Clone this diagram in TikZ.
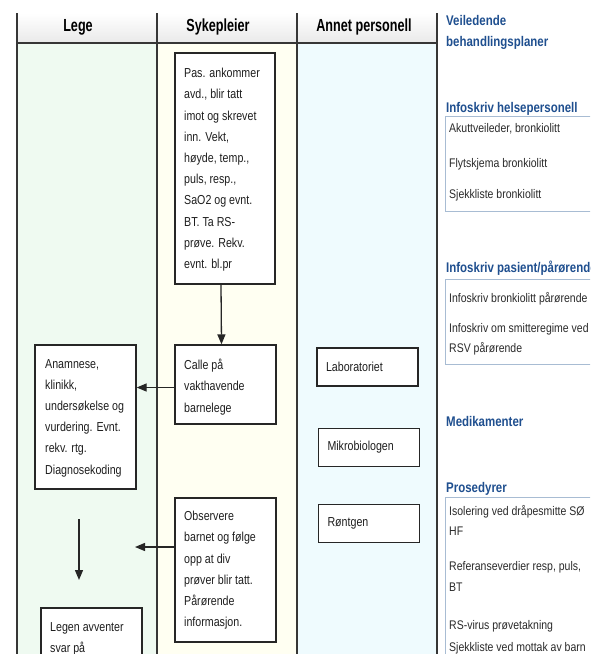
\documentclass[tikz,border=0pt]{standalone}
\usepackage{fontspec}
\setmainfont{Liberation Sans}[FakeStretch=0.82]
\newfontfamily\headfont{Liberation Sans}[FakeStretch=0.72]
\newfontfamily\itemfont{Liberation Sans}[FakeStretch=0.84]
\usetikzlibrary{arrows.meta}

\definecolor{lanegreen}{HTML}{EFFAF1}
\definecolor{laneyellow}{HTML}{FFFFF2}
\definecolor{lanecyan}{HTML}{EFFBFE}
\definecolor{headgray}{HTML}{E9E9E9}
\definecolor{laneline}{HTML}{363636}
\definecolor{boxrule}{HTML}{262626}
\definecolor{bodytext}{HTML}{1E1E1E}
\definecolor{linkblue}{HTML}{1F4F8F}
\definecolor{panelrule}{HTML}{A8BCD3}
\definecolor{itemtext}{HTML}{2A2A2A}

\begin{document}
\begin{tikzpicture}[x=1pt,y=-1pt,
  box/.style={draw=boxrule, line width=1.3pt, fill=white, inner sep=0pt},
  boxtext/.style={anchor=north west, inner sep=0pt, align=left,
    font=\fontsize{13}{21.2}\selectfont, text=bodytext},
  unitbox/.style={box, minimum height=38pt, inner xsep=9pt, text width=83pt,
    align=left, font=\fontsize{13}{16}\selectfont, text=bodytext},
  flow/.style={draw=boxrule, line width=1.3pt, -{Triangle[length=10pt,width=8pt]}},
  lanehead/.style={font=\headfont\bfseries\fontsize{17.5}{20}\selectfont, text=black},
  linkhead/.style={anchor=base west, inner sep=0pt,
    font=\bfseries\fontsize{14}{17}\selectfont, text=linkblue},
  item/.style={anchor=base west, inner sep=0pt, align=left,
    font=\itemfont\fontsize{12.5}{20}\selectfont, text=itemtext},
  panelbox/.style={draw=panelrule, line width=0.8pt}
]
\fill[white] (0,0) rectangle (590,654);
\useasboundingbox (0,0) rectangle (590,654);

\begin{scope}
\clip (0,13) rectangle (590,654);

% swimlane backgrounds
\shade[top color=white, bottom color=headgray] (17,13) rectangle (437,43);
\fill[lanegreen]  (17,43)  rectangle (157,660);
\fill[laneyellow] (157,43) rectangle (297,660);
\fill[lanecyan]   (297,43) rectangle (437,660);

% swimlane rules
\draw[laneline, line width=1.3pt] (17,13) -- (17,660);
\draw[laneline, line width=1.3pt] (157,13) -- (157,660);
\draw[laneline, line width=1.3pt] (297,13) -- (297,660);
\draw[laneline, line width=1.3pt] (437,13) -- (437,660);
\draw[laneline, line width=1.6pt] (17,43) -- (437,43);

% lane titles
\node[lanehead] (hlege) at (78,27) {Lege};
\node[lanehead] (hsyk)  at (218,27) {Sykepleier};
\node[lanehead] (hannet) at (364,27) {Annet personell};

% Sykepleier lane
\node[box, minimum width=100pt, minimum height=231pt] (b1) at (225,168.5) {};
\node[boxtext] (t1) at (184,68) {Pas. ankommer\\avd., blir tatt\\imot og skrevet\\inn. Vekt,\\høyde, temp.,\\puls, resp.,\\SaO2 og evnt.\\BT. Ta RS-\\prøve. Rekv.\\evnt. bl.pr};

\node[box, minimum width=101pt, minimum height=79pt] (b2) at (225.5,384.5) {};
\node[boxtext] (t2) at (184,359) {Calle på\\vakthavende\\barnelege};

\node[box, minimum width=101pt, minimum height=144pt] (b4) at (225.5,570) {};
\node[boxtext] (t4) at (184,511) {Observere\\barnet og følge\\opp at div\\prøver blir tatt.\\Pårørende\\informasjon.};

% Lege lane
\node[box, minimum width=101pt, minimum height=144pt] (b3) at (85.5,417) {};
\node[boxtext] (t3) at (45,359) {Anamnese,\\klinikk,\\undersøkelse og\\vurdering. Evnt.\\rekv. rtg.\\Diagnosekoding};

\node[box, minimum width=101pt, minimum height=92pt] (b5) at (91.5,654) {};
\node[boxtext] (t5) at (50,622) {Legen avventer\\svar på};

% Annet personell lane
\node[unitbox] (lab)  at (367.5,367)   {Laboratoriet};
\node[unitbox] (mikro) at (369,447.5) {Mikrobiologen};
\node[unitbox] (rtg)  at (369,523.5)  {Røntgen};

% connectors
\coordinate (obsend) at (135,547);
\coordinate (legetop) at (79,519);
\coordinate (legebot) at (79,580);
\draw[flow] ([xshift=-4pt]b1.south) -- ([xshift=-4pt]b2.north);
\draw[flow] ([yshift=-3pt]b2.west) -- ([yshift=-3pt]b2.west -| b3.east);
\draw[flow] (b4.west |- obsend) -- (obsend);
\draw[flow] (legetop) -- (legebot);

% side panel with document links
\node[linkhead] (hveil1) at (446,25) {Veiledende};
\node[linkhead] (hveil2) at (446,46) {behandlingsplaner};

\node[linkhead] (hhelse) at (446,112) {Infoskriv helsepersonell};
\draw[panelbox] (445,116) rectangle (600,211);
\node[item] (i1) at (449,132) {Akuttveileder, bronkiolitt};
\node[item] (i2) at (449,167) {Flytskjema bronkiolitt};
\node[item] (i3) at (449,198) {Sjekkliste bronkiolitt};

\node[linkhead] (hpas) at (446,272) {Infoskriv pasient/pårørende};
\draw[panelbox] (445,279) rectangle (600,364);
\node[item] (i4) at (449,302) {Infoskriv bronkiolitt pårørende};
\node[item] (i5) at (449,332) {Infoskriv om smitteregime ved};
\node[item] (i6) at (449,352) {RSV pårørende};

\node[linkhead] (hmed) at (446,426) {Medikamenter};

\node[linkhead] (hpros) at (446,492) {Prosedyrer};
\draw[panelbox] (445,497) rectangle (600,670);
\node[item] (i7) at (449,515) {Isolering ved dråpesmitte SØ};
\node[item] (i8) at (449,535) {HF};
\node[item] (i9) at (449,570) {Referanseverdier resp, puls,};
\node[item] (i10) at (449,591) {BT};
\node[item] (i11) at (449,629) {RS-virus prøvetakning};
\node[item] (i12) at (449,651) {Sjekkliste ved mottak av barn};
\end{scope}
\end{tikzpicture}
\end{document}
